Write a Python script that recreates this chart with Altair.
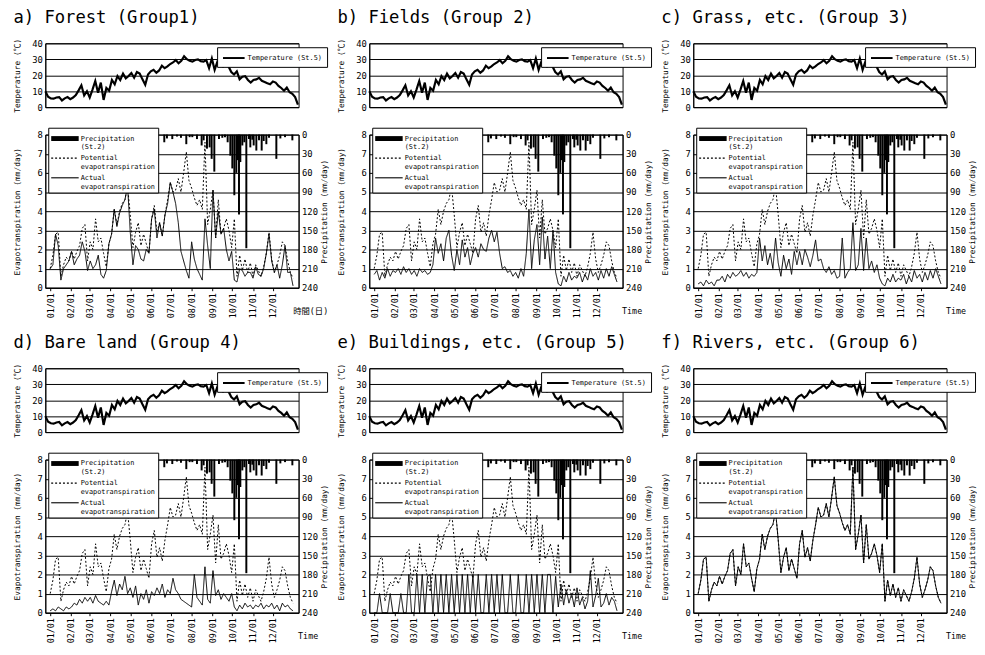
import json
import pandas as pd
import altair as alt

# ---------------- data (4-day sampling grid) ----------------
days = list(range(0, 368, 4))  # day of year 0..364
month_ticks = [0, 31, 59, 90, 120, 151, 181, 212, 243, 273, 304, 334]
month_labels = ["01/01", "02/01", "03/01", "04/01", "05/01", "06/01",
                "07/01", "08/01", "09/01", "10/01", "11/01", "12/01"]

temperature = [
    10.0, 6.5, 5.5, 5.3, 6.0, 6.3, 4.2, 5.5,
    6.3, 5.0, 6.0, 7.5, 10.5, 13.7, 7.3,
    10.0, 6.0, 11.0, 16.4, 9.0, 15.4, 4.5, 12.0,
    10.3, 17.0, 14.3, 19.5, 17.0, 21.0, 18.0,
    19.5, 21.4, 18.4, 22.0, 21.0, 17.4, 14.0, 20.5,
    22.4, 23.4, 21.5, 23.0, 26.0, 24.4, 25.5, 27.0,
    28.0, 29.5, 27.5, 29.0, 31.9, 30.0, 29.0,
    28.5, 29.5, 29.9, 28.8, 28.5, 29.5, 24.4, 30.5,
    23.4, 28.5, 27.0, 25.5, 27.5, 25.5, 22.0, 20.4,
    22.4, 17.4, 19.0, 19.4, 17.0, 15.4, 17.0,
    17.4, 18.4, 16.5, 15.8, 15.0, 14.3, 16.0, 15.4,
    13.3, 12.0, 10.3, 12.3, 9.3, 8.3, 6.3, 1.5,
]

pet = [
    1.0, 1.7, 2.8, 2.9, 0.6, 1.2, 1.6, 1.4,
    1.9, 1.5, 1.9, 2.2, 3.1, 3.3, 1.4,
    2.4, 2.0, 3.6, 2.4, 2.6, 1.8, 1.1, 2.3,
    2.8, 4.1, 3.3, 4.0, 4.4, 4.6, 5.3,
    3.8, 2.1, 2.9, 3.4, 2.2, 2.8, 2.3, 1.8,
    3.6, 4.3, 2.9, 3.4, 2.7, 3.8, 4.6, 5.5,
    5.0, 5.1, 5.7, 5.0, 6.0, 7.1, 5.6,
    5.2, 4.7, 4.3, 4.6, 4.1, 7.6, 3.3, 4.1,
    5.1, 2.6, 4.6, 2.8, 3.1, 3.6, 3.0, 2.1,
    3.6, 0.6, 1.7, 0.9, 1.5, 0.8, 1.3,
    0.6, 1.2, 0.9, 0.6, 1.1, 1.8, 2.9, 1.5,
    0.8, 1.2, 1.7, 2.4, 2.2, 1.4, 0.8, 0.5,
]

aet_forest = [
    1.0, 1.2, 2.8, 2.2, 0.4, 1.0, 1.2, 1.4,
    1.9, 1.2, 1.5, 1.7, 2.4, 1.9, 0.9,
    1.4, 1.0, 1.2, 1.7, 0.7, 0.5, 0.9, 2.3,
    2.8, 4.1, 3.2, 3.9, 4.3, 4.6, 5.3,
    2.9, 1.2, 2.2, 2.0, 1.5, 1.4, 2.0, 1.8,
    3.6, 4.1, 2.6, 3.4, 2.7, 3.8, 4.4, 5.5,
    5.0, 4.4, 3.4, 1.9, 1.4, 0.9, 0.5,
    2.4, 1.5, 1.0, 0.7, 0.4, 3.6, 2.2, 1.0,
    5.1, 2.6, 4.0, 2.8, 3.1, 2.0, 1.4, 1.9,
    0.4, 0.3, 1.0, 0.9, 0.6, 0.8, 0.8,
    0.5, 1.1, 0.7, 0.6, 1.0, 1.8, 2.8, 1.4,
    0.8, 1.2, 0.5, 1.2, 2.2, 0.8, 0.8, 0.1,
]

aet_fields = [
    0.7, 0.9, 0.4, 0.8, 0.5, 1.0, 0.6, 0.9,
    0.8, 1.0, 0.7, 1.1, 0.8, 1.0, 0.7,
    0.9, 0.6, 1.0, 0.8, 0.9, 0.7, 0.8, 1.2,
    2.6, 1.8, 2.3, 1.4, 2.6, 3.0, 1.7,
    0.9, 2.0, 1.2, 2.5, 1.6, 2.1, 1.2, 1.8,
    2.1, 1.6, 2.3, 2.0, 1.9, 2.6, 3.0, 2.4,
    2.9, 1.8, 1.0, 1.1, 0.8, 0.9, 0.6,
    0.8, 0.5, 1.0, 0.6, 1.8, 4.1, 1.0, 2.5,
    3.3, 1.2, 3.7, 1.5, 2.7, 1.0, 3.0, 0.8,
    0.2, 0.1, 0.6, 0.3, 0.8, 0.4, 0.6,
    0.5, 0.8, 0.3, 0.7, 0.4, 1.0, 0.6, 0.8,
    0.4, 0.9, 0.5, 1.0, 0.6, 1.1, 0.7, 0.3,
]

aet_grass = [
    0.2, 0.3, 0.1, 0.4, 0.2, 0.3, 0.1, 0.4,
    0.4, 0.6, 0.3, 0.7, 0.5, 0.8, 0.6,
    0.7, 0.9, 0.6, 0.8, 0.5, 0.7, 0.6, 0.8,
    2.6, 1.4, 2.2, 1.2, 1.8, 1.0, 2.6,
    1.3, 0.6, 1.7, 1.0, 1.5, 0.7, 1.9, 1.2,
    1.9, 1.2, 2.0, 1.6, 1.1, 1.7, 2.5, 1.4,
    1.5, 1.0, 0.8, 1.1, 0.7, 0.9, 0.5,
    0.6, 2.6, 0.5, 0.8, 1.0, 3.4, 0.9, 1.2,
    3.1, 0.9, 2.6, 1.0, 1.4, 0.8, 1.2, 0.5,
    0.2, 0.1, 0.5, 0.3, 0.7, 0.3, 0.5,
    0.4, 0.7, 0.2, 0.6, 0.3, 0.9, 0.5, 0.7,
    0.3, 0.8, 0.4, 0.9, 0.5, 1.0, 0.6, 0.2,
]

aet_bare = [
    0.1, 0.2, 0.1, 0.3, 0.2, 0.1, 0.3, 0.2,
    0.3, 0.5, 0.4, 0.7, 0.5, 0.8, 0.6,
    0.8, 0.5, 0.9, 0.6, 0.5, 0.4, 0.6, 0.4,
    1.1, 1.7, 0.9, 1.5, 1.2, 1.9, 1.0,
    1.3, 0.8, 1.4, 0.4, 1.0, 0.7, 1.2, 0.5,
    1.1, 0.9, 1.3, 1.0, 1.5, 0.8, 1.2, 1.0,
    1.8, 1.2, 1.0, 0.7, 0.6, 0.5, 0.4,
    0.3, 2.0, 0.8, 0.6, 0.4, 2.4, 0.7, 0.5,
    2.2, 0.9, 1.2, 0.7, 1.0, 0.8, 0.6, 1.0,
    0.3, 0.1, 0.4, 0.2, 0.5, 0.3, 0.4,
    0.2, 0.4, 0.3, 0.5, 0.2, 0.4, 0.3, 0.5,
    0.2, 0.4, 0.1, 0.5, 0.3, 0.4, 0.2, 0.1,
]

aet_buildings = [
    0.0, 0.0, 1.0, 0.0, 0.0, 0.0, 1.0, 0.0,
    0.0, 0.0, 1.0, 0.0, 0.0, 2.0, 0.0,
    0.0, 2.0, 0.0, 2.0, 0.0, 1.9, 2.0, 0.0,
    2.0, 0.0, 2.0, 0.0, 2.0, 0.0, 2.0,
    0.0, 2.0, 0.0, 2.0, 0.0, 2.0, 0.0, 2.0,
    0.0, 2.0, 0.0, 0.0, 2.0, 0.0, 2.0, 0.0,
    2.0, 0.0, 2.0, 0.0, 0.0, 2.0, 0.0,
    0.0, 2.0, 0.0, 0.0, 2.0, 0.0, 2.0, 0.0,
    2.0, 0.0, 2.0, 0.0, 2.0, 2.0, 0.0, 1.9,
    0.3, 1.5, 0.4, 1.2, 0.5, 1.0, 0.3,
    1.3, 0.4, 0.8, 0.2, 0.6, 2.2, 0.3, 0.9,
    1.8, 0.3, 0.5, 1.0, 0.4, 0.8, 0.6, 0.1,
]

# rivers: actual evapotranspiration lies on top of the potential curve in the figure
aet_rivers = list(pet)

precip_days = [10, 22, 36, 50, 63, 76, 96, 110, 124, 138,
               150, 160, 171, 175, 183, 190, 196, 204, 209, 213,
               220, 227, 230, 235, 239, 242, 246, 253, 258, 262,
               266, 270, 273, 276, 279, 281, 283, 285, 288, 291,
               294, 298, 300, 303, 305, 309, 313, 317, 320, 324,
               328, 339, 345, 352, 363]
precip_mm = [8, 5, 14, 6, 20, 10, 15, 22, 12, 9,
             16, 6, 12, 6, 7, 3, 5, 15, 4, 4,
             7, 17, 9, 22, 20, 38, 58, 7, 5, 4,
             12, 33, 53, 95, 60, 40, 125, 43, 17, 12,
             178, 7, 20, 8, 17, 25, 9, 25, 10, 15,
             5, 38, 6, 4, 9]

panel_titles = ["a) Forest (Group1)", "b) Fields (Group 2)", "c) Grass, etc. (Group 3)",
                "d) Bare land (Group 4)", "e) Buildings, etc. (Group 5)", "f) Rivers, etc. (Group 6)"]
time_titles = ["時間(日)", "Time", "Time", "Time", "Time", "Time"]
aet_all = [aet_forest, aet_fields, aet_grass, aet_bare, aet_buildings, aet_rivers]
series_names = ["Precipitation|(St.2)", "Potential|evapotranspiration", "Actual|evapotranspiration"]
temp_name = "Temperature (St.5)"

for s in [temperature, pet] + aet_all:
    assert len(s) == len(days)
assert len(precip_days) == len(precip_mm)

# ---------------- styling ----------------
FONT = "DejaVu Sans Mono, Noto Sans CJK JP"
W, HT, HE = 258, 65, 156

# legend glyphs (unit coords; symbol size 256 -> 8 px per unit, 28 px long)
PATH_BAR = "M-1,-0.31H2.5V0.31H-1Z"
PATH_LINE = "M-1,-0.07H2.5V0.07H-1Z"
PATH_DOT = " ".join("M%.2f,-0.07h0.25v0.14h-0.25Z" % (-1 + k * 0.5) for k in range(7))
# temperature legend stroke (symbol size 100 -> 5 px per unit, 22 px long)
PATH_TEMP = "M-1,0H3.4"

xscale = alt.Scale(domain=[0, 365], nice=False, zero=False)
label_expr = "%s[indexof(%s, datum.value)]" % (json.dumps(month_labels), json.dumps(month_ticks))

temp_df = pd.DataFrame({"day": days, "temp": temperature, "series": temp_name})
precip_df = pd.DataFrame({"day": precip_days, "mm": precip_mm})


def make_panel(i):
    temp = alt.Chart(temp_df).mark_line(strokeWidth=2.2, color="black").encode(
        x=alt.X("day:Q", scale=xscale,
                axis=alt.Axis(labels=False, ticks=False, title=None, grid=False)),
        y=alt.Y("temp:Q", scale=alt.Scale(domain=[0, 40], nice=False),
                axis=alt.Axis(values=[0, 10, 20, 30, 40], title="Temperature (℃)", grid=True,
                              ticks=False, labelPadding=3, titleX=-24, titleBaseline="bottom")),
        color=alt.Color("series:N", scale=alt.Scale(domain=[temp_name], range=["black"]),
                        legend=alt.Legend(title=None, orient="none", legendX=175, legendY=4,
                                          symbolType=PATH_TEMP, symbolSize=100, symbolStrokeWidth=2,
                                          labelFontSize=7, padding=5, fillColor="white",
                                          strokeColor="black", labelOffset=14)),
    ).properties(width=W, height=HT)

    n = len(days)
    et_df = pd.DataFrame({
        "day": days + days,
        "value": pet + aet_all[i],
        "series": [series_names[1]] * n + [series_names[2]] * n,
    })
    title_x = 252 if i == 0 else 257
    x_axis = alt.Axis(values=month_ticks, labelExpr=label_expr, labelAngle=270, grid=False,
                      tickSize=3, labelPadding=2, labelFontSize=8.5,
                      title=time_titles[i], titleAngle=0, titleAlign="left",
                      titleBaseline="middle", titleX=title_x, titleY=23, titleFontSize=8.5)
    lines = alt.Chart(et_df).mark_line(color="black", strokeWidth=1).encode(
        x=alt.X("day:Q", scale=xscale, axis=x_axis),
        y=alt.Y("value:Q", scale=alt.Scale(domain=[0, 8], nice=False),
                axis=alt.Axis(values=list(range(9)), title="Evapotranspiration (mm/day)", grid=True,
                              ticks=False, labelPadding=3, titleX=-24, titleBaseline="bottom")),
        strokeDash=alt.StrokeDash("series:N",
                                  scale=alt.Scale(domain=series_names[1:], range=[[2, 2], [1, 0]]),
                                  legend=None),
    )
    bars = alt.Chart(precip_df).mark_bar(size=2, color="black").encode(
        x=alt.X("day:Q", scale=xscale, axis=x_axis),
        y=alt.Y("mm:Q", scale=alt.Scale(domain=[0, 240], reverse=True, nice=False),
                axis=alt.Axis(orient="right", values=list(range(0, 241, 30)),
                              title="Precipitation (mm/day)", grid=False, ticks=False,
                              labelPadding=3, titleAngle=270, titleX=30, titleBaseline="bottom")),
    )
    leg = alt.Chart(et_df).transform_filter("datum.value < -100").mark_point(
        filled=True, opacity=1, color="black"
    ).encode(
        shape=alt.Shape("series:N",
                        scale=alt.Scale(domain=series_names, range=[PATH_BAR, PATH_DOT, PATH_LINE]),
                        legend=alt.Legend(title=None, orient="none", legendX=3, legendY=-7,
                                          symbolSize=256, symbolStrokeWidth=0,
                                          labelExpr="split(datum.label, '|')", labelFontSize=7,
                                          padding=3, rowPadding=0, fillColor="white",
                                          strokeColor="black", labelOffset=14)),
    )
    et = alt.layer(lines, bars, leg).resolve_scale(y="independent").properties(width=W, height=HE)

    return alt.vconcat(
        temp, et, spacing=14,
        title=alt.Title(panel_titles[i], anchor="start", fontSize=17.5, offset=11),
    ).resolve_scale(color="independent", shape="independent", strokeDash="independent")


row1 = alt.hconcat(make_panel(0), make_panel(1), make_panel(2), spacing=8).resolve_scale(
    color="independent", shape="independent", strokeDash="independent")
row2 = alt.hconcat(make_panel(3), make_panel(4), make_panel(5), spacing=8).resolve_scale(
    color="independent", shape="independent", strokeDash="independent")

chart = alt.vconcat(row1, row2, spacing=15).resolve_scale(
    color="independent", shape="independent", strokeDash="independent"
).properties(
    padding={"left": 5, "top": -5, "right": 0, "bottom": 0}
).configure(
    font=FONT
).configure_view(
    stroke="black", strokeWidth=1
).configure_axis(
    labelFont=FONT, titleFont=FONT, labelFontSize=9, titleFontSize=8,
    labelColor="black", titleColor="black", titleFontWeight="normal",
    domainColor="black", tickColor="black", gridColor="black", gridWidth=1, domainWidth=1,
).configure_legend(
    labelFont=FONT, labelColor="black"
).configure_title(
    font=FONT, fontWeight="normal", color="black"
)

chart.save("out.html", embed_options={"renderer": "svg", "actions": False})
